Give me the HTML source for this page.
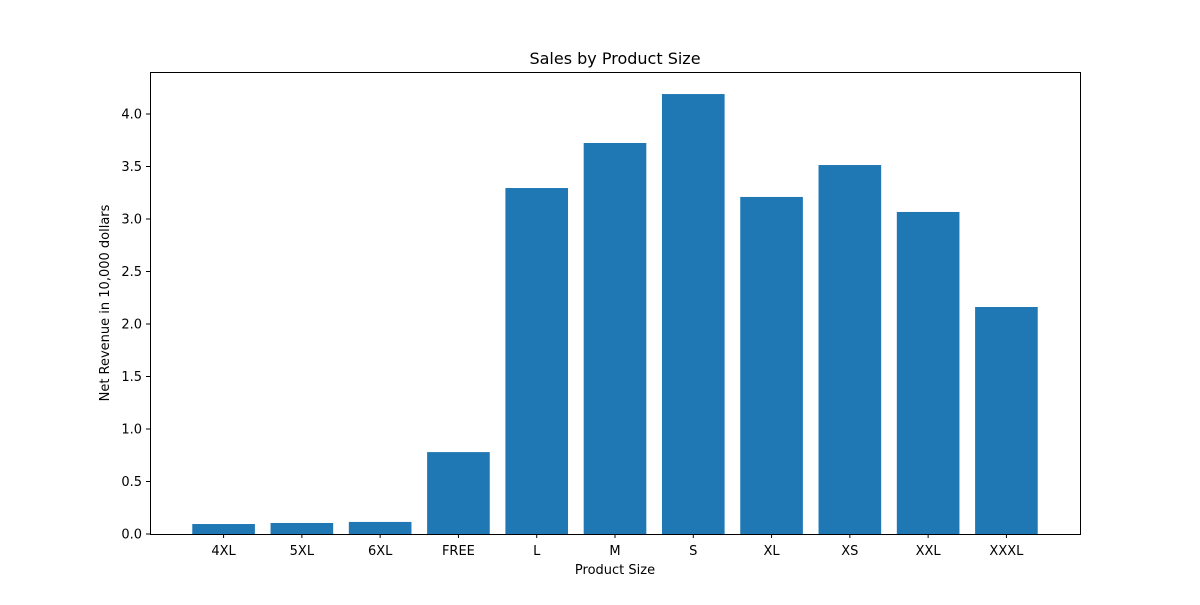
<!DOCTYPE html>
<html><head><meta charset="utf-8"><style>
body{margin:0;background:#fff;}
svg text{font-family:"DejaVu Sans","Liberation Sans",sans-serif;fill:#000;}
</style></head><body>
<svg id="chart" width="1200" height="600" xmlns="http://www.w3.org/2000/svg">
<rect width="1200" height="600" fill="#fff"/>
<text x="615" y="64" font-size="16" text-anchor="middle">Sales by Product Size</text>
<text x="615" y="574" font-size="13" text-anchor="middle">Product Size</text>
<text transform="translate(109,303) rotate(-90)" font-size="13" text-anchor="middle">Net Revenue in 10,000 dollars</text>
<g id="bars"></g><g id="xt"></g><g id="yt"></g>
<rect x="150.5" y="72.5" width="930" height="462" fill="none" stroke="#000" stroke-width="1"/>
</svg>
<script>
const categories=["4XL","5XL","6XL","FREE","L","M","S","XL","XS","XXL","XXXL"];
const values=[0.095,0.105,0.115,0.78,3.295,3.724,4.19,3.21,3.514,3.067,2.162];
const yTicks=[0,0.5,1,1.5,2,2.5,3,3.5,4];
const yTickLabels=["0.0","0.5","1.0","1.5","2.0","2.5","3.0","3.5","4.0"];
const L=150,R=1080,T=72,B=534,xmin=-0.94,xmax=10.94,ymax=4.4;
const NS="http://www.w3.org/2000/svg";
function xs(v){return L+(v-xmin)/(xmax-xmin)*(R-L);}
function ys(v){return B-v/ymax*(B-T);}
function mk(t,a,p){const e=document.createElementNS(NS,t);for(const k in a)e.setAttribute(k,a[k]);document.getElementById(p).appendChild(e);return e;}
categories.forEach((c,i)=>{
 const x0=xs(i-0.4),x1=xs(i+0.4);
 const r=mk('rect',{x:x0,y:ys(values[i]),width:x1-x0,height:ys(0)-ys(values[i]),fill:'#1f77b4'},'bars');
 
 
 const tk=mk('line',{x1:xs(i),x2:xs(i),y1:B,y2:B+4,stroke:'#000'},'xt');
 
 
 const t=mk('text',{x:xs(i),y:B+21,'font-size':13,'text-anchor':'middle'},'xt');
 t.textContent=c;
 
 
});
yTicks.forEach((v,i)=>{
 const tk=mk('line',{x1:L-4,x2:L,y1:ys(v),y2:ys(v),stroke:'#000'},'yt');
 
 
 const t=mk('text',{x:L-8,y:ys(v)+4.5,'font-size':13,'text-anchor':'end'},'yt');
 t.textContent=yTickLabels[i];
 
 
});
</script>
</body></html>
